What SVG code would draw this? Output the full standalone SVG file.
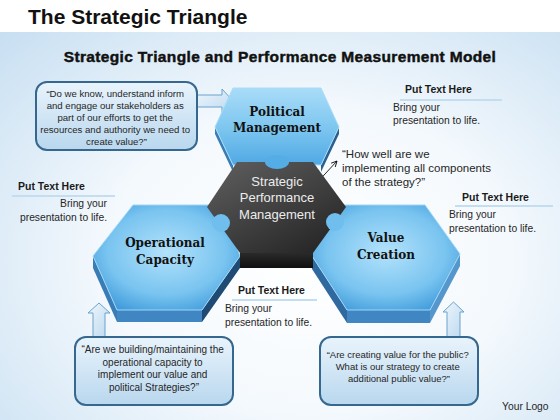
<svg xmlns="http://www.w3.org/2000/svg" width="560" height="420" viewBox="0 0 560 420">
<defs>
  <style>
    .title{font-family:"Liberation Sans",Arial,sans-serif;font-weight:bold;fill:#111}
    .body{font-family:"Liberation Sans",Arial,sans-serif;fill:#262626}
    .head{font-family:"Liberation Sans",Arial,sans-serif;font-weight:bold;font-size:10.5px;fill:#1a1a1a}
    .hx{font-family:"DejaVu Serif","Liberation Serif",serif;font-weight:bold;font-size:12px;fill:#111;text-anchor:middle}
    .dk{font-family:"Liberation Sans",Arial,sans-serif;font-size:13px;fill:#ececec;text-anchor:middle}
    .box{fill:url(#boxFill);stroke:#36688f;stroke-width:2}
    .barrow{fill:url(#arrowFill);stroke:#6aa2cf;stroke-width:1}
    .ul{stroke:url(#ul);stroke-width:1.4;fill:none}
    .ul2{stroke:#c3ddf1;stroke-width:2;fill:none}
  </style>
  <radialGradient id="bg" cx="0.55" cy="0.62" r="0.8">
    <stop offset="0" stop-color="#ffffff"/>
    <stop offset="0.45" stop-color="#f4f9fd"/>
    <stop offset="1" stop-color="#c4ddf1"/>
  </radialGradient>
  <radialGradient id="blueFace" cx="0.5" cy="0.45" r="0.62">
    <stop offset="0" stop-color="#b3e2fb"/>
    <stop offset="0.65" stop-color="#79c4f0"/>
    <stop offset="1" stop-color="#419cdb"/>
  </radialGradient>
  <linearGradient id="pFace" x1="0" y1="0" x2="0" y2="1">
    <stop offset="0" stop-color="#a9dcf8"/>
    <stop offset="0.5" stop-color="#7fc7f0"/>
    <stop offset="1" stop-color="#4fa9e4"/>
  </linearGradient>
  <linearGradient id="darkFace" x1="0" y1="0" x2="0.8" y2="1">
    <stop offset="0" stop-color="#606060"/>
    <stop offset="1" stop-color="#262626"/>
  </linearGradient>
  <linearGradient id="darkBand" x1="0" y1="0" x2="0" y2="1">
    <stop offset="0" stop-color="#2a2a2a"/>
    <stop offset="1" stop-color="#101010"/>
  </linearGradient>
  <linearGradient id="boxFill" x1="0" y1="0" x2="0" y2="1">
    <stop offset="0" stop-color="#e9f4fc"/>
    <stop offset="1" stop-color="#b9d7ee"/>
  </linearGradient>
  <linearGradient id="arrowFill" x1="0" y1="0" x2="1" y2="1">
    <stop offset="0" stop-color="#eef6fc"/>
    <stop offset="1" stop-color="#bcd9ef"/>
  </linearGradient>
  <linearGradient id="ul" x1="0" y1="0" x2="1" y2="0">
    <stop offset="0" stop-color="#5d9bcc" stop-opacity="0.3"/>
    <stop offset="0.3" stop-color="#3d82bf"/>
    <stop offset="1" stop-color="#6aa7d6" stop-opacity="0.4"/>
  </linearGradient>
  <marker id="open" viewBox="0 0 10 10" refX="9" refY="5" markerWidth="7" markerHeight="7" markerUnits="userSpaceOnUse" orient="auto">
    <path d="M1,1 L9,5 L1,9" fill="none" stroke="#111" stroke-width="1.3"/>
  </marker>
</defs>

<rect width="560" height="420" fill="url(#bg)"/>
<rect width="560" height="32" fill="#ffffff"/>

<text class="title" x="28" y="24" font-size="21">The Strategic Triangle</text>
<text class="title" x="280" y="62" font-size="15.5" letter-spacing="0.35" stroke="#111" stroke-width="0.45" text-anchor="middle">Strategic Triangle and Performance Measurement Model</text>

<g id="connectors">
  <path class="barrow" d="M197,95 L222,95 L222,89 L233,101 L222,113 L222,107 L197,107 Z"/>
  <path class="barrow" d="M93,337 L93,313 L88,313 L99,303 L110,313 L105,313 L105,337 Z"/>
  <path class="barrow" d="M447,337 L447,312 L443,312 L453.5,302 L464,312 L460,312 L460,337 Z"/>
  <line x1="313" y1="187" x2="337" y2="161" stroke="#111" stroke-width="0.9" marker-end="url(#open)"/>
</g>

<g id="node-operational">
  <polygon points="93,256 117,310 117,322 93,268" fill="#3a7cb5"/>
  <polygon points="117,310 202,310 202,322 117,322" fill="#3f86c2"/>
  <polygon points="202,310 240,256 240,268 202,322" fill="#1e4a73"/>
  <polygon points="133,205 222,205 240,256 202,310 117,310 93,256" fill="url(#blueFace)" stroke="#9fd6f6" stroke-width="1"/>
</g>

<g id="node-value">
  <polygon points="312,256 347,310 347,323 312,269" fill="#2f69a0"/>
  <polygon points="347,310 430,310 430,323 347,323" fill="#3f86c2"/>
  <polygon points="430,310 460,254 460,266 430,323" fill="#5596cc"/>
  <polygon points="318,205 425,205 460,254 430,310 347,310 312,256" fill="url(#blueFace)" stroke="#9fd6f6" stroke-width="1"/>
</g>

<g id="node-political">
  <polygon points="321,165 339,127 339,134 321,172" fill="#2a5f90"/>
  <polygon points="215,127 233,165 233,172 215,134" fill="#3a7cb5"/>
  <polygon points="233,88 321,88 339,127 321,165 233,165 215,127" fill="url(#pFace)" stroke="#a9dcf8" stroke-width="1"/>
</g>

<g id="node-strategic">
  <polygon points="240,253 313,253 313,268 240,268" fill="url(#darkBand)"/>
  <polygon points="237,162 313,162 346,207 313,253 240,253 207,207" fill="url(#darkFace)"/>
  <ellipse cx="277" cy="162" rx="12" ry="7" fill="#55ade6"/>
  <circle cx="221" cy="223" r="9" fill="#6fbeee"/>
  <circle cx="335" cy="222" r="9" fill="#6fbeee"/>
  <text class="dk" x="277" y="186">Strategic</text>
  <text class="dk" x="277" y="202">Performance</text>
  <text class="dk" x="277" y="219">Management</text>
</g>

<g id="labels-hex">
  <text class="hx" x="277" y="116">Political</text>
  <text class="hx" x="277" y="132">Management</text>
  <text class="hx" x="165" y="247">Operational</text>
  <text class="hx" x="165" y="264">Capacity</text>
  <text class="hx" x="386" y="242">Value</text>
  <text class="hx" x="386" y="259">Creation</text>
</g>

<g id="node-box-political">
  <rect class="box" x="36" y="82" width="161" height="68" rx="11"/>
  <text class="body" font-size="9.6" text-anchor="middle">
    <tspan x="116.5" y="97">“Do we know, understand inform</tspan>
    <tspan x="116.5" y="109">and engage our stakeholders as</tspan>
    <tspan x="116.5" y="121">part of our efforts to get the</tspan>
    <tspan x="116.5" y="133">resources and authority we need to</tspan>
    <tspan x="116.5" y="145">create value?”</tspan>
  </text>
</g>

<g id="node-box-operational">
  <rect class="box" x="75" y="337" width="158" height="68" rx="11"/>
  <text class="body" font-size="10" text-anchor="middle">
    <tspan x="154" y="353">“Are we building/maintaining the</tspan>
    <tspan x="154" y="366">operational capacity to</tspan>
    <tspan x="154" y="378">implement our value and</tspan>
    <tspan x="154" y="391">political Strategies?”</tspan>
  </text>
</g>

<g id="node-box-value">
  <rect class="box" x="320" y="337" width="158" height="68" rx="11"/>
  <text class="body" font-size="9.5" text-anchor="middle">
    <tspan x="399" y="358">“Are creating value for the public?</tspan>
    <tspan x="399" y="370">What is our strategy to create</tspan>
    <tspan x="399" y="382">additional public value?”</tspan>
  </text>
</g>

<g id="note-how-well">
  <text class="body" font-size="11.5">
    <tspan x="342" y="158">“How well are we</tspan>
    <tspan x="342" y="172">implementing all components</tspan>
    <tspan x="342" y="186">of the strategy?”</tspan>
  </text>
</g>

<g id="note-top-right">
  <text class="head" x="405" y="93">Put Text Here</text>
  <line class="ul2" x1="400" y1="100" x2="502" y2="100"/>
  <line class="ul" x1="397" y1="98" x2="502" y2="98"/>
  <text class="body" font-size="10.3"><tspan x="393" y="111">Bring your</tspan><tspan x="393" y="124">presentation to life.</tspan></text>
</g>

<g id="note-left">
  <text class="head" x="18" y="190">Put Text Here</text>
  <line class="ul2" x1="12" y1="196" x2="115" y2="196"/>
  <line class="ul" x1="10" y1="194" x2="115" y2="194"/>
  <text class="body" font-size="10.3" text-anchor="end"><tspan x="107" y="207">Bring your</tspan><tspan x="107" y="221">presentation to life.</tspan></text>
</g>

<g id="note-right">
  <text class="head" x="462" y="201">Put Text Here</text>
  <line class="ul2" x1="455" y1="206" x2="553" y2="206"/>
  <line class="ul" x1="452" y1="204" x2="553" y2="204"/>
  <text class="body" font-size="10.3"><tspan x="449" y="218">Bring your</tspan><tspan x="449" y="232">presentation to life.</tspan></text>
</g>

<g id="note-bottom">
  <text class="head" x="238" y="294">Put Text Here</text>
  <line class="ul2" x1="232" y1="300" x2="317" y2="300"/>
  <line class="ul" x1="228" y1="298" x2="317" y2="298"/>
  <text class="body" font-size="10.3"><tspan x="225" y="312">Bring your</tspan><tspan x="225" y="326">presentation to life.</tspan></text>
</g>

<text class="body" x="502" y="410" font-size="10.3">Your Logo</text>
</svg>
